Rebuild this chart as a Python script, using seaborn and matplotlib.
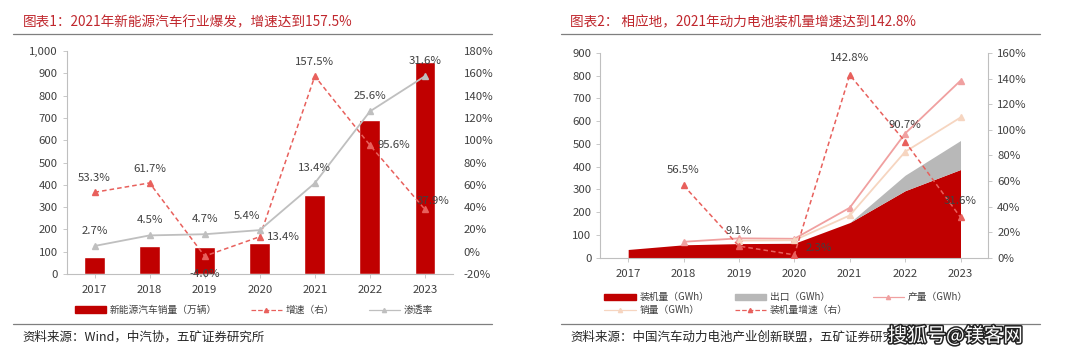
import numpy as np
import matplotlib
matplotlib.use("Agg")
import matplotlib.pyplot as plt
import matplotlib.patheffects as pe
from matplotlib.lines import Line2D
from matplotlib.patches import Patch
import seaborn as sns

# 图表1 数据
years = ["2017", "2018", "2019", "2020", "2021", "2022", "2023"]
ev_sales = [77.7, 125.6, 120.6, 136.7, 352.1, 688.7, 949.5]      # 万辆
ev_growth = [53.3, 61.7, -4.0, 13.4, 157.5, 95.6, 37.9]           # %
penetration = [2.7, 4.5, 4.7, 5.4, 13.4, 25.6, 31.6]              # %

# 图表2 数据
installed = [36.4, 56.9, 62.2, 63.6, 154.5, 294.6, 387.7]         # GWh
export = [0, 0, 0, 0, 0, 68.1, 127.4]
production = [np.nan, 70.2, 85.4, 83.4, 219.7, 545.9, 778.1]
sales = [np.nan, np.nan, 75.3, 77.0, 186.0, 465.5, 616.3]
inst_growth = [np.nan, 56.5, 9.1, 2.3, 142.8, 90.7, 31.6]

sns.set_theme(style="white")
plt.rcParams["font.family"] = ["Noto Sans CJK SC", "DejaVu Sans"]

RED = "#C00000"
GRAY = "#BFBFBF"
DASH_RED = "#E8605C"
TXT = "#404040"
TITLE_RED = "#C0272D"
FS = 8.2

fig = plt.figure(figsize=(10.8, 3.6), dpi=100)
x = np.arange(len(years))


def style_axes(ax):
    for s in ["top", "right"]:
        ax.spines[s].set_visible(False)
    for s in ["left", "bottom"]:
        ax.spines[s].set_color(GRAY)
        ax.spines[s].set_linewidth(0.8)
    ax.tick_params(axis="both", colors=TXT, labelsize=FS, length=3, width=0.6,
                   color=GRAY, left=True, bottom=True)
    ax.tick_params(axis="x", pad=5)
    ax.set_xlim(-0.5, 6.5)


# ---------------- 图表1 ----------------
ax1 = fig.add_axes([0.062, 0.239, 0.357, 0.619])
sns.barplot(x=years, y=ev_sales, color=RED, width=0.38, saturation=1, ax=ax1)
style_axes(ax1)
ax1.set_ylim(0, 1000)
ax1.set_yticks(range(0, 1001, 100))
ax1.set_yticklabels([f"{v:,}" for v in range(0, 1001, 100)])
ax1.set_xlabel("")

ax1r = ax1.twinx()
ax1r.plot(x, ev_growth, color=DASH_RED, ls="--", lw=1.1, marker="^", ms=5,
          dashes=(3, 2))
ax1r.set_ylim(-20, 180)
ax1r.set_yticks(range(-20, 181, 20))
ax1r.set_yticklabels([f"{v}%" for v in range(-20, 181, 20)])
for s in ax1r.spines.values():
    s.set_visible(False)
ax1r.tick_params(axis="y", colors=TXT, labelsize=FS, length=0, pad=8)

ax1p = ax1.twinx()
ax1p.plot(x, penetration, color=GRAY, lw=1.3, marker="^", ms=5)
ax1p.set_ylim(-2.06, 35.86)
ax1p.axis("off")

g_off = [(0, 10), (0, 10), (0, -13), (17, 0), (0, 10), (17, 0), (6, 6)]
for i, v in enumerate(ev_growth):
    ax1r.annotate(f"{v}%", (x[i], v), xytext=g_off[i], textcoords="offset points",
                  ha="center", va="center", fontsize=FS, color=TXT)
p_off = [(0, 11), (0, 11), (0, 11), (-9, 10), (0, 11), (0, 11), (0, 11)]
for i, v in enumerate(penetration):
    ax1p.annotate(f"{v}%", (x[i], v), xytext=p_off[i], textcoords="offset points",
                  ha="center", va="center", fontsize=FS, color=TXT)

h1 = [Patch(color=RED),
      Line2D([], [], color=DASH_RED, ls="--", marker="^", ms=3, lw=0.9),
      Line2D([], [], color=GRAY, marker="^", ms=3, lw=0.9)]
fig.legend(h1, ["新能源汽车销量（万辆）", "增速（右）", "渗透率"], ncol=3,
           loc="center", bbox_to_anchor=(0.235, 0.139), frameon=False,
           fontsize=7, labelcolor=TXT, handlelength=3.2, handleheight=0.6,
           columnspacing=3.5, handletextpad=0.4)

# ---------------- 图表2 ----------------
ax2 = fig.add_axes([0.556, 0.284, 0.359, 0.569])
ax2.stackplot(x, installed, export, colors=[RED, "#B8B8B8"], lw=0)
style_axes(ax2)
ax2.set_xticks(x)
ax2.set_xticklabels(years)
ax2.set_ylim(0, 900)
ax2.set_yticks(range(0, 901, 100))
ax2.plot(x, production, color="#F0A0A0", lw=1.3, marker="^", ms=5)
ax2.plot(x, sales, color="#F6D5C0", lw=1.3, marker="^", ms=5)

ax2r = ax2.twinx()
ax2r.plot(x, inst_growth, color=DASH_RED, ls="--", lw=1.1, marker="^", ms=5,
          dashes=(3, 2))
ax2r.set_ylim(0, 160)
ax2r.set_yticks(range(0, 161, 20))
ax2r.set_yticklabels([f"{v}%" for v in range(0, 161, 20)])
for s in ["top", "left", "bottom"]:
    ax2r.spines[s].set_visible(False)
ax2r.spines["right"].set_color(GRAY)
ax2r.spines["right"].set_linewidth(0.8)
ax2r.tick_params(axis="y", colors=TXT, labelsize=FS, length=3, width=0.6,
                 color=GRAY, right=True)
ax2r.set_xlim(-0.5, 6.5)

i_off = [None, (0, 11), (0, 11), (18, 5), (0, 12), (0, 12), (0, 12)]
for i, v in enumerate(inst_growth):
    if np.isnan(v):
        continue
    ax2r.annotate(f"{v}%", (x[i], v), xytext=i_off[i], textcoords="offset points",
                  ha="center", va="center", fontsize=FS, color=TXT)

# 图例按行排列：第一行 装机量/出口/产量，第二行 销量/装机量增速
h2 = [Patch(color=RED),
      Line2D([], [], color="#F6D5C0", marker="^", ms=3, lw=0.9),
      Patch(color="#B8B8B8"),
      Line2D([], [], color=DASH_RED, ls="--", marker="^", ms=3, lw=0.9),
      Line2D([], [], color="#F0A0A0", marker="^", ms=3, lw=0.9)]
fig.legend(h2, ["装机量（GWh）", "销量（GWh）", "出口（GWh）", "装机量增速（右）", "产量（GWh）"],
           ncol=3, loc="center", bbox_to_anchor=(0.728, 0.157), frameon=False,
           fontsize=7, labelcolor=TXT, handlelength=3.2, handleheight=0.6,
           columnspacing=2.6, handletextpad=0.4, labelspacing=0.3)

# ---------------- 标题、分隔线、来源 ----------------
fig.text(0.021, 0.938, "图表1：2021年新能源汽车行业爆发，增速达到157.5%",
         fontsize=9.8, color=TITLE_RED, va="center")
fig.text(0.528, 0.938, "图表2： 相应地，2021年动力电池装机量增速达到142.8%",
         fontsize=9.8, color=TITLE_RED, va="center")
for x0, x1 in [(0.012, 0.456), (0.519, 0.963)]:
    fig.add_artist(Line2D([x0, x1], [0.906, 0.906], color="#7F7F7F", lw=0.9))
    fig.add_artist(Line2D([x0, x1], [0.1, 0.1], color="#7F7F7F", lw=0.9))
fig.text(0.021, 0.064, "资料来源：Wind，中汽协，五矿证券研究所",
         fontsize=9, color="#262626", va="center")
fig.text(0.528, 0.064, "资料来源：中国汽车动力电池产业创新联盟，五矿证券研究所",
         fontsize=9, color="#262626", va="center")
fig.text(0.822, 0.066, "搜狐号@镁客网", fontsize=14, color="white", va="center",
         path_effects=[pe.withStroke(linewidth=2.2, foreground="#222222")])

fig.savefig("out.png", dpi=100, facecolor="white")
